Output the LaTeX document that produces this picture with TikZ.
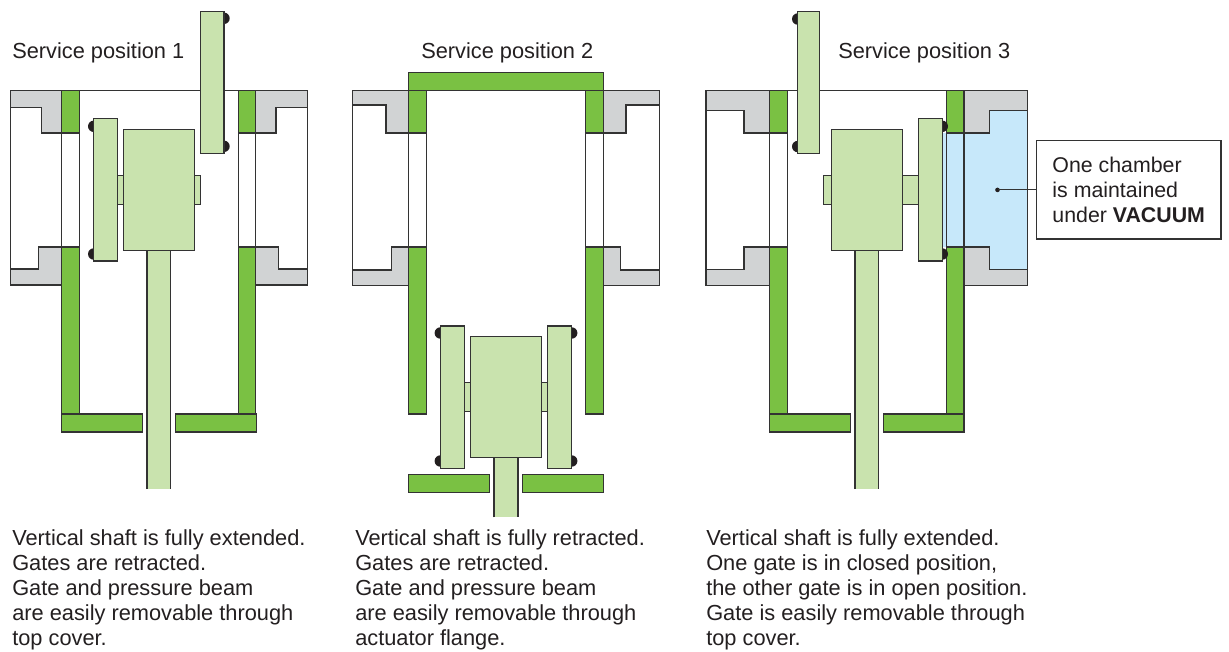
\documentclass[tikz,border=0pt]{standalone}
\usepackage{fontspec}
\setmainfont{Liberation Sans}
\definecolor{gr}{HTML}{7AC143}
\definecolor{lg}{HTML}{C9E3AE}
\definecolor{gy}{HTML}{D1D3D4}
\definecolor{bl}{HTML}{C7E8FA}
\definecolor{ln}{HTML}{333333}
\definecolor{tx}{HTML}{231F20}
\tikzset{
  part/.style={draw=ln,line width=0.85pt,line join=miter},
  casing/.style={part,fill=gy},
  wall/.style={part,fill=gr},
  gatepart/.style={part,fill=lg},
  hollow/.style={part,fill=white},
  vacuum/.style={fill=bl},
  seal/.style={fill=tx},
  heading/.style={text=tx,font=\fontsize{16.35}{19}\selectfont,inner sep=0pt,anchor=base west},
  caption/.style={text=tx,font=\fontsize{16.35}{18.8}\selectfont,inner sep=0pt,anchor=north west,align=left},
}
\begin{document}
\begin{tikzpicture}[x=0.75pt,y=-0.75pt]
\useasboundingbox (0,0) rectangle (1229,651);
%% PANEL 1
\draw[part] (79.3,90.5) -- (238.3,90.5);
\draw[hollow] (10.5,90.5) rectangle (61.7,285);
\draw[hollow] (255.7,90.5) rectangle (307.3,285);
\draw[hollow] (61.7,133) rectangle (79.3,247);
\draw[hollow] (238.3,133) rectangle (255.7,247);
\draw[casing] (10.5,90.5) -- (61.7,90.5) -- (61.7,133) -- (41.7,133) -- (41.7,107.7) -- (10.5,107.7) -- cycle;
\draw[casing] (61.7,247) -- (38.3,247) -- (38.3,269) -- (10.5,269) -- (10.5,285) -- (61.7,285) -- cycle;
\draw[casing] (307.3,90.5) -- (255.7,90.5) -- (255.7,133) -- (276,133) -- (276,107.7) -- (307.3,107.7) -- cycle;
\draw[casing] (255.7,247) -- (278.7,247) -- (278.7,269) -- (307.3,269) -- (307.3,285) -- (255.7,285) -- cycle;
\draw[wall] (61.7,90.5) rectangle (79.3,133);
\draw[wall] (238.3,90.5) rectangle (255.7,133);
\draw[wall] (61.7,247) rectangle (79.3,414);
\draw[wall] (238.3,247) rectangle (255.7,414);
\draw[wall] (61.7,414) rectangle (142.7,432);
\draw[wall] (175.3,414) rectangle (256.3,432);
\fill[lg] (147,250.7) rectangle (170.7,489);
\draw[part] (147,489) -- (147,250.7) (170.7,250.7) -- (170.7,489);
\fill[seal] (93.7,126.3) circle[radius=5.7];
\fill[seal] (93.7,254) circle[radius=5.7];
\fill[seal] (224,18.3) circle[radius=5.7];
\fill[seal] (224,146.3) circle[radius=5.7];
\draw[gatepart] (117.3,175.7) rectangle (123.3,204.3);
\draw[gatepart] (194.3,175.7) rectangle (200.3,204.3);
\draw[gatepart] (93.7,118.7) rectangle (117.3,261);
\draw[gatepart] (123.3,129.3) rectangle (194.3,250.7);
\draw[gatepart] (200.3,11.3) rectangle (224,153.7);
%% PANEL 2
\draw[hollow] (352.5,90.5) rectangle (408.5,285.7);
\draw[hollow] (603.5,90.5) rectangle (659.3,285.7);
\draw[hollow] (408.5,133) rectangle (426.5,247);
\draw[hollow] (585.5,133) rectangle (603.5,247);
\draw[casing] (352.5,90.5) -- (408.5,90.5) -- (408.5,133) -- (386,133) -- (386,105) -- (352.5,105) -- cycle;
\draw[casing] (408.5,247) -- (391.7,247) -- (391.7,270) -- (352.5,270) -- (352.5,285.7) -- (408.5,285.7) -- cycle;
\draw[casing] (659.3,90.5) -- (603.5,90.5) -- (603.5,133) -- (626,133) -- (626,105) -- (659.3,105) -- cycle;
\draw[casing] (603.5,247) -- (620.7,247) -- (620.7,270) -- (659.3,270) -- (659.3,285.7) -- (603.5,285.7) -- cycle;
\draw[wall] (408.5,72.7) rectangle (603.5,90.7);
\draw[wall] (408.5,90.7) rectangle (426.5,133);
\draw[wall] (585.5,90.7) rectangle (603.5,133);
\draw[wall] (408.5,247) rectangle (426.5,414);
\draw[wall] (585.5,247) rectangle (603.5,414);
\draw[wall] (408.5,474.3) rectangle (489.7,492.3);
\draw[wall] (522.7,474.3) rectangle (603.5,492.3);
\fill[lg] (494,457.7) rectangle (518,517.3);
\draw[part] (494,517.3) -- (494,457.7) (518,457.7) -- (518,517.3);
\fill[seal] (440.3,333) circle[radius=5.7];
\fill[seal] (440.3,461) circle[radius=5.7];
\fill[seal] (571.7,333) circle[radius=5.7];
\fill[seal] (571.7,461) circle[radius=5.7];
\draw[gatepart] (464.5,382.7) rectangle (470.7,411.7);
\draw[gatepart] (541.7,382.7) rectangle (547.7,411.7);
\draw[gatepart] (440.3,326) rectangle (464.5,468.3);
\draw[gatepart] (470.7,336.7) rectangle (541.7,457.7);
\draw[gatepart] (547.7,326) rectangle (571.7,468.3);
%% PANEL 3
\draw[part] (787.5,90.5) -- (946.7,90.5);
\draw[hollow] (706,90.5) rectangle (769.7,285.7);
\draw[hollow] (769.7,133) rectangle (787.5,247);
\path[vacuum] (943,133) -- (989.7,133) -- (989.7,110.7) -- (1027.7,110.7) -- (1027.7,269.3) -- (989.7,269.3) -- (989.7,247) -- (943,247) -- cycle;
\draw[part] (1027.7,110.7) -- (1027.7,269.3);
\draw[part] (946.7,133) -- (946.7,247) (964,133) -- (964,247);
\draw[casing] (706,90.5) -- (769.7,90.5) -- (769.7,133) -- (744,133) -- (744,110.7) -- (706,110.7) -- cycle;
\draw[casing] (769.7,247) -- (744,247) -- (744,269.3) -- (706,269.3) -- (706,285.7) -- (769.7,285.7) -- cycle;
\draw[casing] (1027.7,90.5) -- (964,90.5) -- (964,133) -- (989.7,133) -- (989.7,110.7) -- (1027.7,110.7) -- cycle;
\draw[casing] (964,247) -- (989.7,247) -- (989.7,269.3) -- (1027.7,269.3) -- (1027.7,285.7) -- (964,285.7) -- cycle;
\draw[wall] (769.7,90.5) rectangle (787.5,133);
\draw[wall] (946.7,90.5) rectangle (964,133);
\draw[wall] (769.7,247) rectangle (787.5,414);
\draw[wall] (946.7,247) rectangle (964,414);
\draw[wall] (769.7,414) rectangle (850.5,432);
\draw[wall] (883.5,414) rectangle (964,432);
\fill[lg] (855,250.7) rectangle (878.7,489);
\draw[part] (855,489) -- (855,250.7) (878.7,250.7) -- (878.7,489);
\fill[seal] (942.3,126.3) circle[radius=5.7];
\fill[seal] (942.3,254) circle[radius=5.7];
\fill[seal] (797.7,19) circle[radius=5.7];
\fill[seal] (797.7,146.5) circle[radius=5.7];
\draw[gatepart] (823.7,175.7) rectangle (831.3,204.3);
\draw[gatepart] (902.7,175.7) rectangle (918.3,204.3);
\draw[gatepart] (918.3,118.7) rectangle (942.3,261);
\draw[gatepart] (831.3,129.3) rectangle (902.7,250.7);
\draw[gatepart] (797.7,11.3) rectangle (819.3,153.7);
%% Callout
\node[draw=ln,line width=0.85pt,fill=white,text=tx,inner sep=0pt,
  minimum height=73.7pt,minimum width=138.5pt,align=left,
  font=\fontsize{16}{19.1}\selectfont] (box) at (1128.7,189.9)
  {One chamber\\is maintained\\under \textbf{VACUUM}};
\coordinate (probe) at (997.5,189.9);
\fill[tx] (probe) circle[radius=2.3];
\draw[ln,line width=0.85pt] (probe) -- (box.west |- probe);
%% Headings
\node[heading] (h1) at (12,58.3) {Service position 1};
\node[heading] (h2) at (421,58.3) {Service position 2};
\node[heading] (h3) at (838,58.3) {Service position 3};
%% Captions
\node[caption] (c1) at (12,529.3) {Vertical shaft is fully extended.\\Gates are retracted.\\Gate and pressure beam\\are easily removable through\\top cover.};
\node[caption] (c2) at (355,529.3) {Vertical shaft is fully retracted.\\Gates are retracted.\\Gate and pressure beam\\are easily removable through\\actuator flange.};
\node[caption] (c3) at (706,529.3) {Vertical shaft is fully extended.\\One gate is in closed position,\\the other gate is in open position.\\Gate is easily removable through\\top cover.};
\end{tikzpicture}
\end{document}
